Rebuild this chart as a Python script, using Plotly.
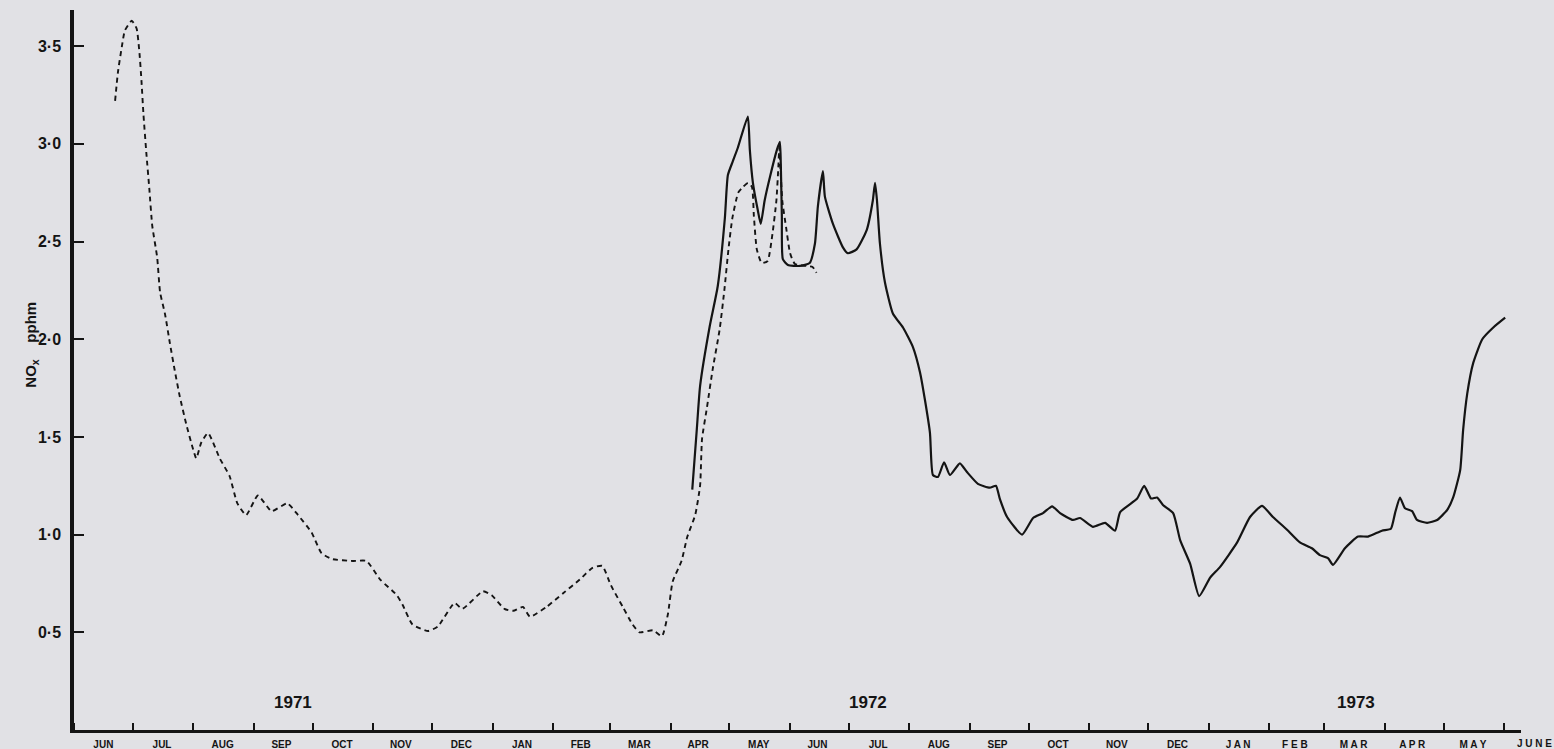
import plotly.graph_objects as go

# ---- data ----
dashed_dates = [
    "1971-06-22", "1971-06-23 12:00", "1971-06-25 12:00", "1971-06-27", "1971-06-30 12:00",
    "1971-07-03", "1971-07-04 12:00", "1971-07-05 12:00", "1971-07-06 12:00", "1971-07-08",
    "1971-07-09 12:00", "1971-07-11", "1971-07-13 12:00", "1971-07-15", "1971-07-17 12:00",
    "1971-07-20", "1971-07-22 12:00", "1971-07-25", "1971-07-28 12:00", "1971-07-31 12:00",
    "1971-08-02 12:00", "1971-08-05", "1971-08-08 12:00", "1971-08-14 12:00", "1971-08-19 12:00",
    "1971-08-23 12:00", "1971-08-28", "1971-09-03", "1971-09-10", "1971-09-18",
    "1971-09-23 12:00", "1971-09-30 12:00", "1971-10-05 12:00", "1971-10-11", "1971-10-21 12:00",
    "1971-10-28 12:00", "1971-11-04 12:00", "1971-11-13", "1971-11-16", "1971-11-21",
    "1971-11-29", "1971-12-04", "1971-12-12 12:00", "1971-12-16 12:00", "1971-12-27",
    "1971-12-31 12:00", "1972-01-07", "1972-01-11 12:00", "1972-01-16 12:00", "1972-01-20",
    "1972-01-28 12:00", "1972-02-06", "1972-02-14 12:00", "1972-02-21", "1972-02-26",
    "1972-03-01", "1972-03-02 12:00", "1972-03-07 12:00", "1972-03-12 12:00", "1972-03-16",
    "1972-03-23", "1972-03-27 12:00", "1972-03-30 12:00", "1972-04-02", "1972-04-06 12:00",
    "1972-04-09 12:00", "1972-04-13 12:00", "1972-04-16", "1972-04-17", "1972-04-19 12:00",
    "1972-04-22 12:00", "1972-04-26", "1972-04-28 12:00", "1972-04-30 12:00", "1972-05-02 12:00",
    "1972-05-05 12:00", "1972-05-08", "1972-05-10 12:00", "1972-05-12 12:00", "1972-05-13 12:00",
    "1972-05-15", "1972-05-17 12:00", "1972-05-20 12:00", "1972-05-23", "1972-05-25",
    "1972-05-26", "1972-05-26 12:00", "1972-05-28", "1972-05-30", "1972-06-01",
    "1972-06-03 12:00", "1972-06-09 12:00", "1972-06-12 12:00", "1972-06-14 12:00",
]
dashed_nox = [
    3.22, 3.37, 3.50, 3.58, 3.63,
    3.59, 3.46, 3.32, 3.15, 2.95,
    2.77, 2.58, 2.42, 2.24, 2.13,
    1.98, 1.84, 1.71, 1.56, 1.45,
    1.39, 1.47, 1.52, 1.39, 1.30,
    1.16, 1.10, 1.20, 1.12, 1.16,
    1.10, 1.01, 0.905, 0.875, 0.865,
    0.865, 0.77, 0.69, 0.64, 0.54,
    0.507, 0.53, 0.65, 0.62, 0.71,
    0.69, 0.62, 0.61, 0.63, 0.58,
    0.63, 0.70, 0.77, 0.83, 0.84,
    0.75, 0.72, 0.63, 0.54, 0.50,
    0.51, 0.48, 0.59, 0.76, 0.865,
    0.99, 1.10, 1.25, 1.49, 1.65,
    1.85, 2.05, 2.26, 2.46, 2.62,
    2.75, 2.78, 2.80, 2.78, 2.63,
    2.46, 2.39, 2.40, 2.54, 2.71,
    2.88, 2.98, 2.71, 2.57, 2.44,
    2.385, 2.375, 2.37, 2.34,
]

solid_dates = [
    "1972-04-12", "1972-04-14 08:00", "1972-04-16", "1972-04-21", "1972-04-25",
    "1972-04-28 16:00", "1972-04-30 05:00", "1972-05-02 17:00", "1972-05-05 07:00", "1972-05-10 10:00",
    "1972-05-11 10:00", "1972-05-13", "1972-05-15 12:00", "1972-05-17", "1972-05-19",
    "1972-05-21 17:00", "1972-05-25 07:00", "1972-05-26 19:00", "1972-05-27 07:00", "1972-05-27 19:00",
    "1972-05-28 07:00", "1972-05-30 22:00", "1972-06-06", "1972-06-11", "1972-06-13 17:00",
    "1972-06-15 05:00", "1972-06-17 19:00", "1972-06-18 19:00", "1972-06-22 22:00", "1972-06-28",
    "1972-06-30 12:00", "1972-07-05", "1972-07-10 05:00", "1972-07-13 07:00", "1972-07-14 10:00",
    "1972-07-15 10:00", "1972-07-16 22:00", "1972-07-19 12:00", "1972-07-23 14:00", "1972-07-28 17:00",
    "1972-08-02 19:00", "1972-08-06 10:00", "1972-08-08 22:00", "1972-08-11 12:00", "1972-08-13",
    "1972-08-15 14:00", "1972-08-18 17:00", "1972-08-21 17:00", "1972-08-26 19:00", "1972-08-30 10:00",
    "1972-09-05", "1972-09-11 02:00", "1972-09-14 05:00", "1972-09-16 07:00", "1972-09-19 22:00",
    "1972-09-27 14:00", "1972-10-03 05:00", "1972-10-08 07:00", "1972-10-12 22:00", "1972-10-17",
    "1972-10-23 14:00", "1972-10-27 05:00", "1972-11-02 19:00", "1972-11-09", "1972-11-14 02:00",
    "1972-11-16 17:00", "1972-11-25 10:00", "1972-11-29", "1972-12-02 12:00", "1972-12-05 14:00",
    "1972-12-08 17:00", "1972-12-13 19:00", "1972-12-17 10:00", "1972-12-22 12:00", "1972-12-27 02:00",
    "1973-01-01 17:00", "1973-01-06 19:00", "1973-01-15 12:00", "1973-01-22 02:00", "1973-01-28 05:00",
    "1973-02-02 19:00", "1973-02-10", "1973-02-16 14:00", "1973-02-22 17:00", "1973-02-26 19:00",
    "1973-03-02 22:00", "1973-03-05 12:00", "1973-03-11 14:00", "1973-03-18 07:00", "1973-03-23 10:00",
    "1973-03-30 12:00", "1973-04-04 02:00", "1973-04-06 05:00", "1973-04-08 17:00", "1973-04-11 07:00",
    "1973-04-14 22:00", "1973-04-17 10:00", "1973-04-22 14:00", "1973-04-27 17:00", "1973-05-02 19:00",
    "1973-05-05 22:00", "1973-05-09 12:00", "1973-05-11", "1973-05-13 02:00", "1973-05-16 05:00",
    "1973-05-20 19:00", "1973-05-26 10:00", "1973-06-01 12:00",
]
solid_nox = [
    1.23, 1.54, 1.76, 2.07, 2.27,
    2.62, 2.84, 2.91, 2.98, 3.14,
    2.97, 2.80, 2.66, 2.59, 2.71,
    2.83, 2.97, 3.01, 2.88, 2.63,
    2.41, 2.38, 2.375, 2.39, 2.49,
    2.68, 2.86, 2.73, 2.59, 2.47,
    2.44, 2.46, 2.56, 2.71, 2.80,
    2.71, 2.49, 2.29, 2.13, 2.06,
    1.96, 1.83, 1.69, 1.52, 1.305,
    1.295, 1.37, 1.305, 1.365, 1.32,
    1.26, 1.24, 1.25, 1.18, 1.09,
    1.00, 1.085, 1.11, 1.145, 1.11,
    1.075, 1.085, 1.04, 1.06, 1.02,
    1.115, 1.185, 1.25, 1.185, 1.19,
    1.15, 1.11, 0.97, 0.85, 0.685,
    0.78, 0.835, 0.96, 1.09, 1.147,
    1.09, 1.025, 0.96, 0.93, 0.895,
    0.88, 0.845, 0.93, 0.99, 0.99,
    1.02, 1.03, 1.11, 1.19, 1.135,
    1.12, 1.075, 1.06, 1.075, 1.125,
    1.19, 1.33, 1.535, 1.72, 1.88,
    2.00, 2.06, 2.11,
]

month_mid = [
    "1971-06-16", "1971-07-16", "1971-08-16", "1971-09-15", "1971-10-16", "1971-11-15",
    "1971-12-16", "1972-01-16", "1972-02-15", "1972-03-16", "1972-04-15", "1972-05-16",
    "1972-06-15", "1972-07-16", "1972-08-16", "1972-09-15", "1972-10-16", "1972-11-15",
    "1972-12-16", "1973-01-16", "1973-02-14", "1973-03-16", "1973-04-15", "1973-05-16",
]
month_labels = [
    "JUN", "JUL", "AUG", "SEP", "OCT", "NOV", "DEC", "JAN", "FEB", "MAR", "APR", "MAY",
    "JUN", "JUL", "AUG", "SEP", "OCT", "NOV", "DEC", "J A N", "F E B", "M A R", "A P R", "M A Y",
]
last_month_label = "J U N E"
y_ticks = [0.5, 1.0, 1.5, 2.0, 2.5, 3.0, 3.5]
y_tick_labels = ["0·5", "1·0", "1·5", "2·0", "2·5", "3·0", "3·5"]
years = ["1971", "1972", "1973"]
year_pos = ["1971-09-21", "1972-07-11", "1973-03-17"]

BG = "#e1e1e5"
INK = "#141414"
FONT = "Liberation Sans"

fig = go.Figure()
fig.add_trace(go.Scatter(x=dashed_dates, y=dashed_nox, mode="lines",
                         line=dict(color=INK, width=1.9, dash="5px,4px", shape="spline", smoothing=0.5),
                         showlegend=False))
fig.add_trace(go.Scatter(x=solid_dates, y=solid_nox, mode="lines",
                         line=dict(color=INK, width=2.2, shape="spline", smoothing=0.5),
                         showlegend=False))

for yr, xp in zip(years, year_pos):
    fig.add_annotation(x=xp, y=0.14, xref="x", yref="y", text=yr, showarrow=False,
                       font=dict(family=FONT, size=17, color=INK, weight="bold"))

# last month label sits just past the end of the axis line
fig.add_annotation(x=1.009, y=-0.0185, xref="paper", yref="paper", text=last_month_label,
                   showarrow=False, xanchor="center", yanchor="middle", borderpad=0,
                   font=dict(family=FONT, size=10, color=INK, weight="bold"))

fig.add_annotation(x=-0.030, y=1.97, xref="paper", yref="y", text="NO<sub>x</sub>    pphm",
                   textangle=-90, showarrow=False, xanchor="center", yanchor="middle",
                   font=dict(family=FONT, size=15, color=INK, weight="bold"))

fig.update_layout(
    width=1554, height=749,
    margin=dict(l=74, r=33, t=10, b=19, autoexpand=False),
    paper_bgcolor=BG, plot_bgcolor=BG,
    showlegend=False,
)
fig.update_xaxes(
    type="date", automargin=False,
    range=["1971-06-01", "1973-06-09 14:00"],
    showline=True, linecolor=INK, linewidth=3,
    showgrid=False, zeroline=False,
    tickmode="array", tickvals=month_mid, ticktext=month_labels,
    ticks="", ticklabelstandoff=3,
    tickfont=dict(family=FONT, size=10, color=INK, weight="bold"),
    minor=dict(dtick="M1", tick0="1971-06-01", ticks="inside", ticklen=7,
               tickwidth=1.5, tickcolor=INK, showgrid=False),
)
fig.update_yaxes(
    automargin=False,
    range=[0, 3.685],
    showline=True, linecolor=INK, linewidth=3.5,
    showgrid=False, zeroline=False,
    tickmode="array", tickvals=y_ticks, ticktext=y_tick_labels,
    ticks="inside", ticklen=10, tickwidth=1.5, tickcolor=INK,
    ticklabelstandoff=6,
    tickfont=dict(family=FONT, size=16, color=INK, weight="bold"),
)

fig.write_html(
    "out.html",
    config={"displayModeBar": False},
    post_script="document.body.style.margin='0';document.body.style.overflow='hidden';"
                "document.documentElement.style.overflow='hidden';"
                "document.body.style.background='" + BG + "';",
)
